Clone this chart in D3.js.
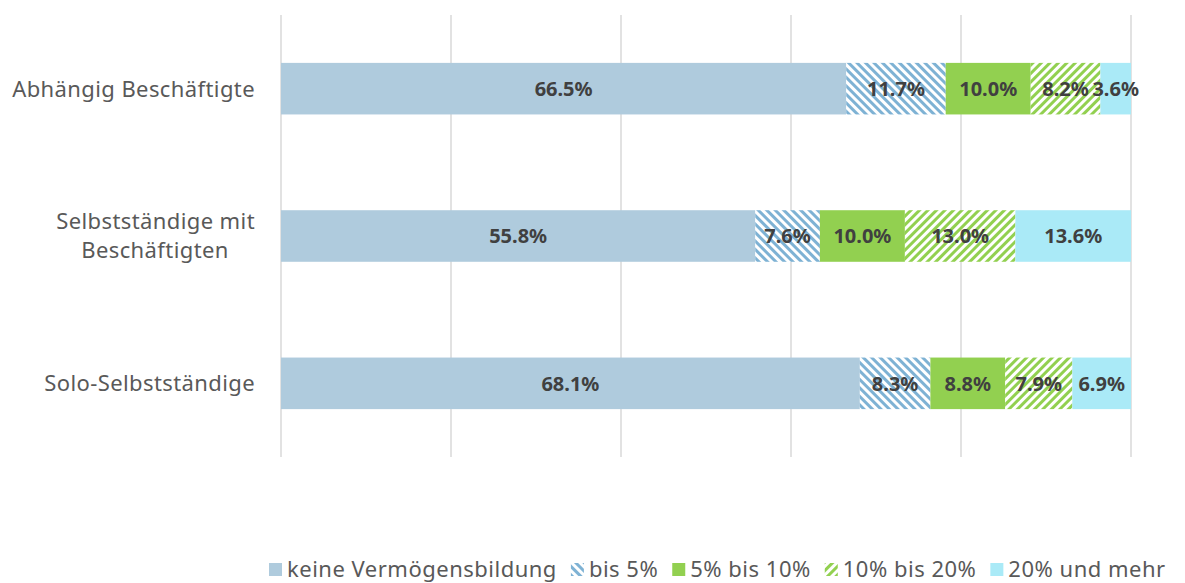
<!DOCTYPE html>
<html>
<head>
<meta charset="utf-8">
<script src="https://cdn.jsdelivr.net/npm/d3@7"></script>
<style>
  body { margin: 0; background: #fff; }
  svg { font-family: "Noto Sans", "Open Sans", sans-serif; }
</style>
</head>
<body>
<script>
const categories = ["Abhängig Beschäftigte", "Selbstständige mit Beschäftigten", "Solo-Selbstständige"];
const seriesNames = ["keine Vermögensbildung", "bis 5%", "5% bis 10%", "10% bis 20%", "20% und mehr"];
const keine = [66.5, 55.8, 68.1];
const bis5 = [11.7, 7.6, 8.3];
const bis10 = [10.0, 10.0, 8.8];
const bis20 = [8.2, 13.0, 7.9];
const mehr = [3.6, 13.6, 6.9];
const xTicks = [0, 20, 40, 60, 80, 100];

const W = 1185, H = 583;
const margin = {top: 15, right: 54, bottom: 126, left: 281};
const width = W - margin.left - margin.right;
const height = H - margin.top - margin.bottom;

const svg = d3.select("body").append("svg").attr("width", W).attr("height", H);
const defs = svg.append("defs");

// hatch patterns
function hatch(id, color, dir) {
  const p = defs.append("pattern").attr("id", id)
    .attr("patternUnits", "userSpaceOnUse").attr("width", 6).attr("height", 6)
    .attr("patternTransform", "rotate(" + dir + ")");
  p.append("rect").attr("width", 6).attr("height", 6).attr("fill", "#fff");
  p.append("rect").attr("width", 3).attr("height", 6).attr("fill", color);
}
hatch("hBlue", "#7eb2d4", -45);
hatch("hGreen", "#92d050", 45);

const fills = ["#afcbdd", "url(#hBlue)", "#92d050", "url(#hGreen)", "#aaeaf7"];

const allSeries = [keine, bis5, bis10, bis20, mehr];
const rows = categories.map((c, i) => {
  const r = {cat: c};
  seriesNames.forEach((s, j) => r[s] = allSeries[j][i]);
  return r;
});
const stacked = d3.stack().keys(seriesNames)(rows);

const g = svg.append("g").attr("transform", "translate(" + margin.left + "," + margin.top + ")");

const x = d3.scaleLinear().domain([0, 100]).range([0, width]);
const y = d3.scaleBand().domain(categories).range([0, height]).paddingInner(0.65).paddingOuter(0.325);

// gridlines
g.append("g").selectAll("line").data(xTicks).enter().append("line")
  .attr("x1", d => x(d)).attr("x2", d => x(d))
  .attr("y1", 0).attr("y2", height)
  .attr("stroke", "#d9d9d9").attr("stroke-width", 1.5);

// bars
const layer = g.append("g").selectAll("g").data(stacked).enter().append("g")
  .attr("fill", (d, i) => fills[i]);
layer.selectAll("rect").data(d => d).enter().append("rect")
  .attr("x", d => x(d[0]))
  .attr("y", d => y(d.data.cat))
  .attr("width", d => x(d[1]) - x(d[0]))
  .attr("height", y.bandwidth());

// value labels
layer.selectAll("text").data(d => d).enter().append("text")
  .attr("x", d => (x(d[0]) + x(d[1])) / 2)
  .attr("y", d => y(d.data.cat) + y.bandwidth() / 2)
  .attr("dy", "0.36em")
  .attr("text-anchor", "middle")
  .attr("fill", "#404040")
  .attr("font-weight", "bold")
  .attr("font-size", 20)
  .text(d => (d[1] - d[0]).toFixed(1) + "%");

// category labels (second one wrapped on two lines)
const wrap = {"Selbstständige mit Beschäftigten": ["Selbstständige mit", "Beschäftigten"]};
categories.forEach(c => {
  const lines = wrap[c] || [c];
  const cy = y(c) + y.bandwidth() / 2;
  lines.forEach((l, k) => {
    const t = g.append("text")
      .attr("y", cy + (k - (lines.length - 1) / 2) * 29)
      .attr("dy", "0.36em")
      .attr("fill", "#595959")
      .attr("font-size", 22)
      .attr("letter-spacing", 0.4)
      .text(l);
    if (lines.length > 1 && k > 0) {
      t.attr("x", -26 - 100).attr("text-anchor", "middle");
    } else {
      t.attr("x", -26).attr("text-anchor", "end");
    }
  });
});

// legend
const legend = svg.append("g").attr("transform", "translate(269,577)");
let lx = 0;
seriesNames.forEach((s, i) => {
  const item = legend.append("g").attr("transform", "translate(" + lx + ",0)");
  item.append("rect").attr("x", 0).attr("y", -14).attr("width", 13).attr("height", 13).attr("fill", fills[i]);
  const t = item.append("text").attr("x", 18).attr("y", 0)
    .attr("fill", "#595959").attr("font-size", 22).attr("letter-spacing", 0.5).text(s);
  lx += 18 + t.node().getComputedTextLength() + 14;
});
</script>
</body>
</html>
